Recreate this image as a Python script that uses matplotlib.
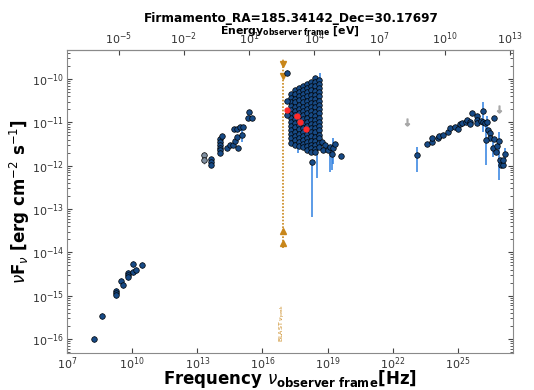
import numpy as np
import matplotlib
matplotlib.use('Agg')
import matplotlib.pyplot as plt

# all values are log10(nu [Hz]) and log10(nuFnu [erg cm-2 s-1])
H_EV = 4.135667696e-15  # Planck constant in eV s

radio_lognu = [8.26, 8.61, 9.26, 9.26, 9.26, 9.47, 9.59, 9.81, 9.81, 9.81, 10.02, 10.05, 10.18, 10.47]
radio_logf = [-15.99, -15.47, -14.88, -14.93, -14.98, -14.66, -14.74, -14.47, -14.52, -14.56, -14.45, -14.26, -14.40, -14.29]

opt_lognu = [13.61, 13.61, 13.61, 14.04, 14.04, 14.04, 14.04, 14.04, 14.04, 14.14, 14.35, 14.50,
             14.63, 14.73, 14.81, 14.88, 14.69, 14.81, 14.97, 15.09, 15.04, 15.39, 15.35, 15.52]
opt_logf = [-11.85, -11.92, -11.98, -11.39, -11.45, -11.52, -11.58, -11.64, -11.70, -11.32, -11.58, -11.51,
            -11.51, -11.44, -11.33, -11.58, -11.16, -11.15, -11.11, -11.10, -11.29, -10.76, -10.91, -10.91]
opt_gray_lognu = [13.32, 13.32]
opt_gray_logf = [-11.76, -11.87]

# x-ray cloud, one list per frequency column
xr_cols = [17.31, 17.50, 17.68, 17.87, 18.05, 18.23, 18.42, 18.60]
xr_c1 = [-10.34, -10.43, -10.52, -10.62, -10.71, -10.80, -10.90, -10.99, -11.08, -11.18, -11.27, -11.37, -11.47]
xr_c2 = [-10.26, -10.35, -10.45, -10.54, -10.64, -10.73, -10.83, -10.92, -11.02, -11.11, -11.21, -11.31, -11.41, -11.51]
xr_c3 = [-10.21, -10.30, -10.40, -10.49, -10.59, -10.68, -10.78, -10.88, -10.97, -11.07, -11.16, -11.26, -11.36, -11.45, -11.55]
xr_c4 = [-10.16, -10.25, -10.35, -10.44, -10.54, -10.64, -10.73, -10.83, -10.92, -11.02, -11.12, -11.21, -11.31, -11.40, -11.49, -11.57]
xr_c5 = [-10.12, -10.21, -10.31, -10.40, -10.50, -10.60, -10.69, -10.79, -10.89, -10.98, -11.08, -11.17, -11.27, -11.36, -11.46, -11.55, -11.64]
xr_c6 = [-10.07, -10.16, -10.26, -10.36, -10.45, -10.55, -10.65, -10.74, -10.84, -10.94, -11.03, -11.13, -11.22, -11.32, -11.42, -11.51, -11.60, -11.69]
xr_c7 = [-9.98, -10.07, -10.17, -10.27, -10.36, -10.46, -10.56, -10.65, -10.75, -10.85, -10.94, -11.04, -11.14, -11.23, -11.33, -11.43, -11.52, -11.61, -11.69]
xr_c8 = [-10.02, -10.11, -10.21, -10.31, -10.40, -10.50, -10.60, -10.70, -10.79, -10.89, -10.99, -11.08, -11.18, -11.28, -11.37, -11.47, -11.57]
xr_tail_lognu = [17.12, 17.12, 17.12, 18.30, 18.72, 18.87, 18.79, 19.02, 19.10, 19.18, 19.25, 19.33, 19.62]
xr_tail_logf = [-9.85, -10.50, -10.83, -11.91, -11.45, -11.52, -11.64, -11.64, -11.56, -11.72, -11.58, -11.50, -11.78]

# long error bars in the x-ray range: nu, low, high
xr_err_lognu = [18.30, 18.51, 19.10, 19.22, 19.25, 18.64, 17.62]
xr_err_lo = [-13.18, -12.29, -12.14, -12.10, -11.95, -11.30, -11.70]
xr_err_hi = [-11.91, -11.55, -11.56, -11.55, -11.35, -9.86, -11.40]

red_lognu = [17.12, 17.57, 17.72, 18.02]
red_logf = [-10.72, -10.85, -10.99, -11.16]

gam_lognu = [23.10, 23.59, 23.82, 23.82, 24.07, 24.14, 24.31, 24.54, 24.63, 24.86, 25.02, 25.09, 25.17,
             25.36, 25.43, 25.55, 25.55, 25.63, 25.86, 25.86, 25.86, 26.06, 26.15, 26.17, 26.26, 26.35,
             26.40, 26.48, 26.48, 26.29, 26.66, 26.67, 26.60, 26.75, 26.80, 26.90, 26.94, 26.97, 27.06,
             27.09, 27.17]
gam_logf = [-11.76, -11.49, -11.45, -11.37, -11.37, -11.32, -11.29, -11.22, -11.12, -11.11, -11.16, -11.04, -11.02,
            -10.98, -10.95, -11.00, -11.03, -10.79, -10.85, -10.95, -11.01, -10.97, -10.74, -10.99, -11.01, -11.00,
            -11.18, -11.24, -11.37, -11.41, -10.89, -11.39, -11.60, -11.68, -11.55, -11.42, -11.87, -11.99, -11.99,
            -11.87, -11.72]
gam_err_lognu = [23.10, 26.15, 26.29, 26.60, 26.90, 27.17, 26.35]
gam_err_lo = [-12.14, -11.22, -11.99, -11.80, -12.33, -11.85, -11.25]
gam_err_hi = [-11.56, -10.52, -11.02, -11.45, -11.22, -11.58, -10.85]
ul_lognu = [22.67, 26.89]
ul_logf = [-10.99, -10.70]

blast_lognu = 16.94
blast_range = [-9.52, -13.90]
blast_down = [-9.65, -9.92]
blast_up = [-13.50, -13.78]

FACE = '#174a86'
ERR = '#2f80e0'
ORANGE = '#c8861a'


def p(v):
    return 10.0 ** np.asarray(v)


def dots(ax, lognu, logf, dy=0.04, face=FACE, ecol=ERR):
    ax.errorbar(p(lognu), p(logf), yerr=[p(logf) - p(np.asarray(logf) - dy), p(np.asarray(logf) + dy) - p(logf)],
                fmt='o', ms=4, mfc=face, mec='black', mew=0.5, ecolor=ecol, elinewidth=1, capsize=0, zorder=3)


def bars(ax, lognu, lo, hi):
    ax.vlines(p(lognu), p(lo), p(hi), colors=ERR, lw=1.1, zorder=2)


fig = plt.figure(figsize=(5.34, 3.9), dpi=100)
ax = fig.add_axes([0.1255, 0.095, 0.835, 0.777])

dots(ax, radio_lognu, radio_logf, dy=0.07)
dots(ax, opt_gray_lognu, opt_gray_logf, dy=0.08, face='#7f8fa0', ecol='#9aa6b4')
dots(ax, opt_lognu, opt_logf, dy=0.03)
bars(ax, [15.04], [-11.45], [-11.14])

for x, col in zip(xr_cols, [xr_c1, xr_c2, xr_c3, xr_c4, xr_c5, xr_c6, xr_c7, xr_c8]):
    dots(ax, [x] * len(col), col, dy=0.05)
bars(ax, xr_err_lognu, xr_err_lo, xr_err_hi)
dots(ax, xr_tail_lognu, xr_tail_logf, dy=0.05)
ax.errorbar(p(red_lognu), p(red_logf), xerr=[[0, p(17.57) - p(17.46), 0, 0], [0, p(17.69) - p(17.57), 0, 0]],
            fmt='o', ms=3.5, color='#ff2a2a', mec='#ff2a2a', elinewidth=2.5, capsize=0, zorder=4)

bars(ax, gam_err_lognu, gam_err_lo, gam_err_hi)
dots(ax, gam_lognu, gam_logf, dy=0.03)
ax.plot(p(ul_lognu), p(ul_logf), ls='none', marker=r'$\downarrow$', ms=5, color='#a8a8a8', zorder=3)

ax.vlines(p(blast_lognu), p(blast_range[1]), p(blast_range[0]), colors=ORANGE, lw=1.2, linestyles=(0, (1, 1)), zorder=2)
ax.plot(p([blast_lognu] * 2), p(blast_down), 'v', ms=4, color=ORANGE, zorder=3)
ax.plot(p([blast_lognu] * 2), p(blast_up), '^', ms=4, color=ORANGE, zorder=3)
ax.text(p(blast_lognu), p(-15.62), r'BLAST $\nu_{\rm peak}$', rotation=90, color=ORANGE,
        fontsize=4.5, ha='center', va='center')

ax.set_xscale('log')
ax.set_yscale('log')
ax.set_xlim(1e7, 3.4e27)
ax.set_ylim(4.8e-17, 4.7e-10)
ax.set_xticks([10.0 ** k for k in range(7, 27, 3)])
ax.xaxis.set_minor_locator(matplotlib.ticker.NullLocator())
ax.tick_params(which='both', direction='in', labelsize=8, colors='#444444', right=True, pad=2)
ax.tick_params(axis='x', labelcolor='#333333')
ax.tick_params(axis='y', labelcolor='#333333')
for s in ax.spines.values():
    s.set_color('#8a8a8a')

ax.set_xlabel(r'Frequency $\nu_{\mathbf{observer\ frame}}$[Hz]', fontsize=12, fontweight='bold', labelpad=-3)
ax.set_ylabel(r'$\nu$F$_\nu$ [erg cm$^{-2}$ s$^{-1}$]', fontsize=12, fontweight='bold', labelpad=0)

top = ax.secondary_xaxis('top', functions=(lambda x: x * H_EV, lambda e: e / H_EV))
top.set_xticks([10.0 ** k for k in range(-5, 14, 3)])
top.xaxis.set_minor_locator(matplotlib.ticker.NullLocator())
top.tick_params(direction='in', labelsize=8, labelcolor='#333333', colors='#444444', pad=2)
top.spines['top'].set_color('#8a8a8a')
top.set_xlabel(r'Energy$_{\mathbf{observer\ frame}}$ [eV]', fontsize=7.8, fontweight='bold', labelpad=-2)

fig.suptitle('Firmamento_RA=185.34142_Dec=30.17697', fontsize=8.7, fontweight='bold', x=0.545, y=0.97)

fig.savefig('out.png', dpi=100)
